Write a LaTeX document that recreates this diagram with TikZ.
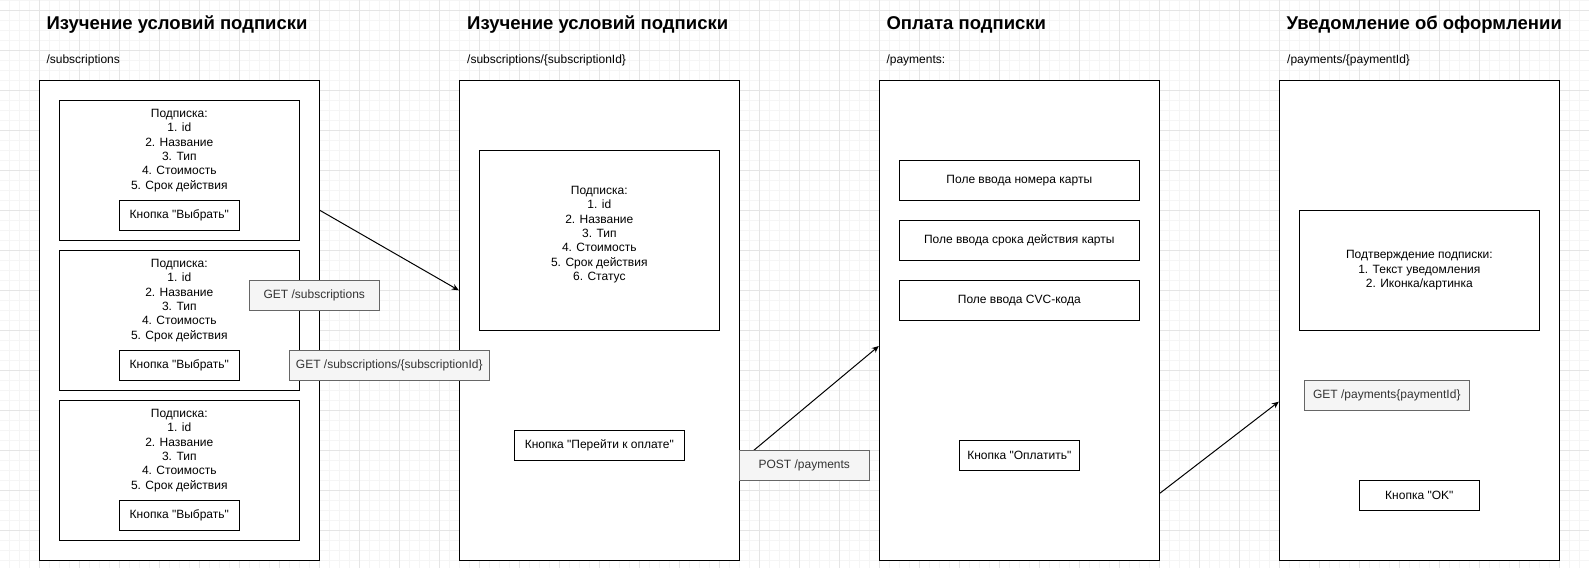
\documentclass[tikz,border=0pt]{standalone}
\usepackage{fontspec}
\setmainfont{Liberation Sans}[Ligatures = TeXOff]
\usetikzlibrary{arrows.meta,positioning}
\definecolor{labelfill}{HTML}{F5F5F5}
\definecolor{labeldraw}{HTML}{666666}
\definecolor{labeltext}{HTML}{333333}

\begin{document}
\begin{tikzpicture} [
        x = 1pt, y = -1pt,
        line width = 1pt,
        every node/.style = {inner sep = 0, font = \fontsize{12}{14.4}\selectfont},
        minorline/.style = {gray!8, line width = 0.8pt},
        majorline/.style = {gray!20, line width = 0.8pt},
        screen/.style = {draw, fill = white, minimum width = 280pt, minimum height = 480pt},
        card/.style = {draw, fill = white, minimum width = 240pt},
        button/.style = {draw, fill = white, minimum height = 30pt},
        request/.style = {draw = labeldraw, fill = labelfill, text = labeltext, minimum height = 30pt},
        heading/.style = {anchor = base west, font = \fontsize{18.5}{22}\selectfont\bfseries},
        route/.style = {anchor = base west},
        items/.style = {anchor = north, align = center},
        link/.style = {-{Stealth[length = 7pt, width = 6pt]}}
        ]

        \useasboundingbox (0, 0) rectangle (1589, 568);
        \foreach \i in {0,...,159} \draw[minorline] ({-0.7 + 10*\i}, 0) -- ++(0, 568);
        \foreach \j in {0,...,56} \draw[minorline] (0, {0.5 + 10*\j}) -- ++(1589, 0);
        \foreach \i in {0,...,40} \draw[majorline] ({-0.7 + 40*\i}, 0) -- ++(0, 568);
        \foreach \j in {0,...,13} \draw[majorline] (0, {10.5 + 40*\j}) -- ++(1589, 0);

        \node[heading] (h1) at (46, 29.3) {Изучение условий подписки};
        \node[heading] (h2) at (466.7, 29.3) {Изучение условий подписки};
        \node[heading] (h3) at (886, 29.3) {Оплата подписки};
        \node[heading] (h4) at (1286, 29.3) {Уведомление об оформлении};

        \node[route] (r1) at (46, 63) {/subscriptions};
        \node[route] (r2) at (466.7, 63) {/subscriptions/\{subscriptionId\}};
        \node[route] (r3) at (886, 63) {/payments:};
        \node[route] (r4) at (1286.7, 63) {/payments/\{paymentId\}};

        \node[screen] (s1) at (179.3, 320.3) {};
        \node[screen] (s2) at (599.3, 320.3) {};
        \node[screen] (s3) at (1019.3, 320.3) {};
        \node[screen] (s4) at (1419.3, 320.3) {};

        \node[card, minimum height = 140pt] (c1) at (179.3, 170.3) {};
        \node[items, below = 8.7pt of c1.north] (t1) {Подписка:\\1. id\\2. Название\\3. Тип\\4. Стоимость\\5. Срок действия};
        \node[button, minimum width = 120pt] (b1) at (179.3, 215.3) {Кнопка "Выбрать"};
        \node[card, minimum height = 140pt] (c2) at (179.3, 320.3) {};
        \node[items, below = 8.7pt of c2.north] (t2) {Подписка:\\1. id\\2. Название\\3. Тип\\4. Стоимость\\5. Срок действия};
        \node[button, minimum width = 120pt] (b2) at (179.3, 365.3) {Кнопка "Выбрать"};
        \node[card, minimum height = 140pt] (c3) at (179.3, 470.3) {};
        \node[items, below = 8.7pt of c3.north] (t3) {Подписка:\\1. id\\2. Название\\3. Тип\\4. Стоимость\\5. Срок действия};
        \node[button, minimum width = 120pt] (b3) at (179.3, 515.3) {Кнопка "Выбрать"};

        \node[card, minimum height = 180pt] (c4) at (599.3, 240.3) {};
        \node[items, below = 35.7pt of c4.north] (t4) {Подписка:\\1. id\\2. Название\\3. Тип\\4. Стоимость\\5. Срок действия\\6. Статус};
        \node[button, minimum width = 170pt] (b4) at (599.3, 445.3) {Кнопка "Перейти к оплате"};

        \node[card, minimum height = 40pt] (f1) at (1019.3, 180.3) {Поле ввода номера карты};
        \node[card, minimum height = 40pt] (f2) at (1019.3, 240.3) {Поле ввода срока действия карты};
        \node[card, minimum height = 40pt] (f3) at (1019.3, 300.3) {Поле ввода CVC-кода};
        \node[button, minimum width = 120pt] (b5) at (1019.3, 455.3) {Кнопка "Оплатить"};

        \node[card, minimum height = 120pt, align = center] (c5) at (1419.3, 270.3) {Подтверждение подписки:\\1. Текст уведомления\\2. Иконка/картинка};
        \node[button, minimum width = 120pt] (b6) at (1419.3, 495.3) {Кнопка "OK"};

        \draw[link] ([yshift = 110pt] s1.east) -- ([yshift = 30pt] s2.west);
        \draw[link] ([yshift = -141.7pt] s2.east) -- ([yshift = -25.7pt] s3.west);
        \draw[link] ([yshift = -173pt] s3.east) -- ([yshift = -81.4pt] s4.west);

        \node[request, minimum width = 130pt] (q1) at (314.3, 295.7) {GET /subscriptions};
        \node[request, minimum width = 200pt] (q2) at (389.3, 365.7) {GET /subscriptions/\{subscriptionId\}};
        \node[request, minimum width = 130pt] (q3) at (804.3, 465.3) {POST /payments};
        \node[request, minimum width = 165pt] (q4) at (1386.8, 395.3) {GET /payments\{paymentId\}};
    \end{tikzpicture}
\end{document}
